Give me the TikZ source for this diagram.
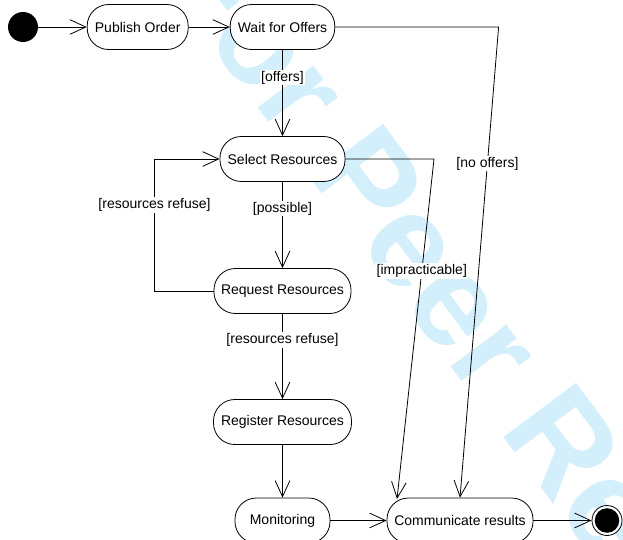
\documentclass[tikz,border=0pt]{standalone}
\usepackage{fontspec}
\setmainfont{Liberation Sans}
\usetikzlibrary{arrows.meta}
\definecolor{wmcol}{RGB}{212,239,252}
\begin{document}
\begin{tikzpicture}[x=0.75pt,y=-0.75pt,
  act/.style={draw, line width=0.6pt, fill=white, rounded corners=16pt, minimum height=33.75pt, inner sep=0pt, font=\fontsize{10.5}{12}\selectfont},
  lbl/.style={fill=white, inner sep=1pt, font=\fontsize{10.5}{12}\selectfont},
  flow/.style={line width=0.6pt, -{Straight Barb[length=12pt,width=11pt]}},
  wmtext/.style={text=wmcol, inner sep=0pt, font=\fontsize{99}{99}\bfseries\selectfont},
]
\useasboundingbox (0,0) rectangle (623,539);
\begin{scope}
\clip (0,0) rectangle (623,539);
\node[wmtext, rotate=-53.3] (wm) at (501,355) {For Peer Review};

\node[circle, fill=black, minimum size=22.5pt, inner sep=0pt] (init) at (23,27) {};
\node[act, minimum width=75.75pt] (pub) at (137.7,27) {Publish Order};
\node[act, minimum width=78.4pt] (wait) at (282.5,27) {Wait for Offers};
\node[act, minimum width=93.75pt] (sel) at (282.5,159) {Select Resources};
\node[act, minimum width=102.75pt] (req) at (282.5,291) {Request Resources};
\node[act, minimum width=103.5pt] (reg) at (282.5,422) {Register Resources};
\node[act, minimum width=71.25pt] (mon) at (282.5,520.5) {Monitoring};
\node[act, minimum width=109.5pt] (com) at (460,520.5) {Communicate results};
\node[circle, draw, line width=0.6pt, fill=white, minimum size=22.5pt, inner sep=0pt] (fin) at (607,520.5) {};
\fill (fin.center) circle (9.2pt);

\coordinate (loopx) at (154.5,0);
\coordinate (noc) at (498.6,27);
\coordinate (impc) at (434,159);
\coordinate (impend) at (397,499);

\draw[flow] (init) -- (pub);
\draw[flow] (pub) -- (wait);
\draw[flow] (wait) -- node[lbl, pos=0.32] {[offers]} (sel);
\draw[flow] (sel) -- node[lbl, pos=0.31] {[possible]} (req);
\draw[flow] (req) -- node[lbl, pos=0.31] {[resources refuse]} (reg);
\draw[flow] (reg) -- (mon);
\draw[flow] (mon) -- (com);
\draw[flow] (com) -- (fin);
\draw[flow] (req.west) -- (req.west -| loopx) -- node[lbl, pos=0.65] {[resources refuse]} (sel.west -| loopx) -- (sel.west);
\draw[flow] (wait.east) -- (noc) -- node[lbl, pos=0.29] {[no offers]} (com.north);
\draw[flow] (sel.east) -- (impc) -- node[lbl, pos=0.33] {[impracticable]} (impend);
\end{scope}
\end{tikzpicture}
\end{document}
